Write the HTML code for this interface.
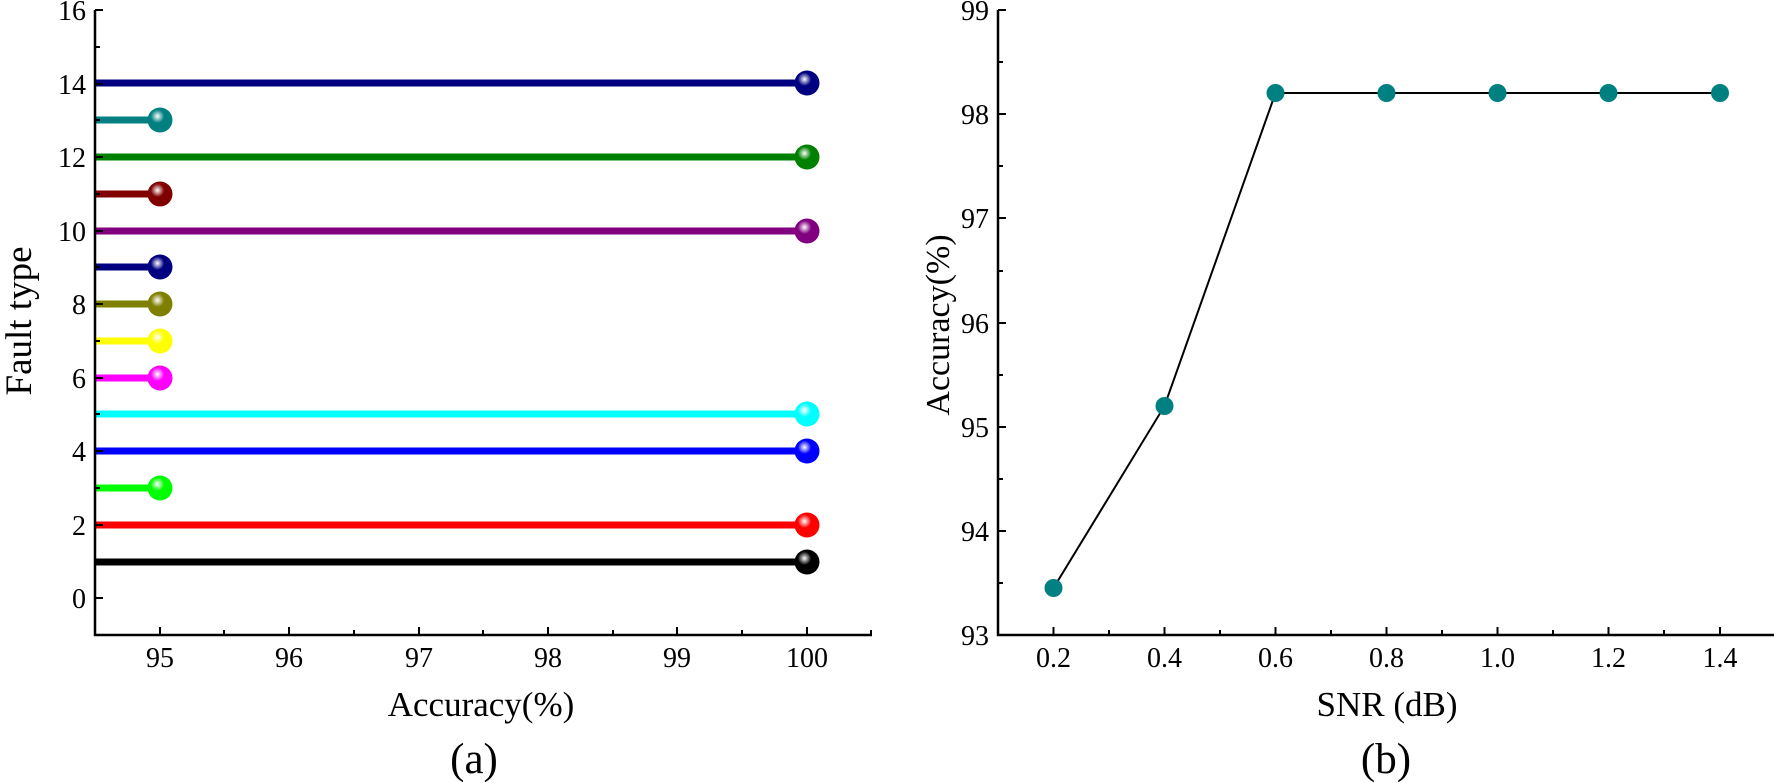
<!DOCTYPE html>
<html><head><meta charset="utf-8"><style>
html,body{margin:0;padding:0;background:#fff;}
svg{display:block;font-family:"Liberation Serif",serif;}
</style></head><body>
<svg width="1774" height="783" viewBox="0 0 1774 783" xmlns="http://www.w3.org/2000/svg">
<defs>
<radialGradient id="hl" cx="0.4" cy="0.35" r="0.6">
<stop offset="0" stop-color="#fff" stop-opacity="1"/>
<stop offset="0.18" stop-color="#fff" stop-opacity="0.6"/>
<stop offset="0.45" stop-color="#fff" stop-opacity="0"/>
</radialGradient>
</defs>
<g id="a">
<g stroke-width="7" fill="none">
<line x1="95" x2="807" y1="83" y2="83" stroke="#000080"/>
<line x1="95" x2="160" y1="120" y2="120" stroke="#008080"/>
<line x1="95" x2="807" y1="157" y2="157" stroke="#008000"/>
<line x1="95" x2="160" y1="194" y2="194" stroke="#800000"/>
<line x1="95" x2="807" y1="231" y2="231" stroke="#800080"/>
<line x1="95" x2="160" y1="267" y2="267" stroke="#000080"/>
<line x1="95" x2="160" y1="304" y2="304" stroke="#808000"/>
<line x1="95" x2="160" y1="341" y2="341" stroke="#ffff00"/>
<line x1="95" x2="160" y1="378" y2="378" stroke="#ff00ff"/>
<line x1="95" x2="807" y1="414" y2="414" stroke="#00ffff"/>
<line x1="95" x2="807" y1="451" y2="451" stroke="#0000ff"/>
<line x1="95" x2="160" y1="488" y2="488" stroke="#00ff00"/>
<line x1="95" x2="807" y1="525" y2="525" stroke="#ff0000"/>
<line x1="95" x2="807" y1="562" y2="562" stroke="#000000"/>
</g>
<g>
<circle cx="807" cy="83" r="12.5" fill="#000080"/><circle cx="807" cy="83" r="12.5" fill="url(#hl)"/>
<circle cx="160" cy="120" r="12.5" fill="#008080"/><circle cx="160" cy="120" r="12.5" fill="url(#hl)"/>
<circle cx="807" cy="157" r="12.5" fill="#008000"/><circle cx="807" cy="157" r="12.5" fill="url(#hl)"/>
<circle cx="160" cy="194" r="12.5" fill="#800000"/><circle cx="160" cy="194" r="12.5" fill="url(#hl)"/>
<circle cx="807" cy="231" r="12.5" fill="#800080"/><circle cx="807" cy="231" r="12.5" fill="url(#hl)"/>
<circle cx="160" cy="267" r="12.5" fill="#000080"/><circle cx="160" cy="267" r="12.5" fill="url(#hl)"/>
<circle cx="160" cy="304" r="12.5" fill="#808000"/><circle cx="160" cy="304" r="12.5" fill="url(#hl)"/>
<circle cx="160" cy="341" r="12.5" fill="#ffff00"/><circle cx="160" cy="341" r="12.5" fill="url(#hl)"/>
<circle cx="160" cy="378" r="12.5" fill="#ff00ff"/><circle cx="160" cy="378" r="12.5" fill="url(#hl)"/>
<circle cx="807" cy="414" r="12.5" fill="#00ffff"/><circle cx="807" cy="414" r="12.5" fill="url(#hl)"/>
<circle cx="807" cy="451" r="12.5" fill="#0000ff"/><circle cx="807" cy="451" r="12.5" fill="url(#hl)"/>
<circle cx="160" cy="488" r="12.5" fill="#00ff00"/><circle cx="160" cy="488" r="12.5" fill="url(#hl)"/>
<circle cx="807" cy="525" r="12.5" fill="#ff0000"/><circle cx="807" cy="525" r="12.5" fill="url(#hl)"/>
<circle cx="807" cy="562" r="12.5" fill="#000000"/><circle cx="807" cy="562" r="12.5" fill="url(#hl)"/>
</g>
<path d="M95,10 V635 H872" stroke="#000" stroke-width="2.5" fill="none"/>
<g stroke="#000" stroke-width="2">
<line x1="95" x2="103" y1="10" y2="10"/><line x1="95" x2="100" y1="47" y2="47"/>
<line x1="95" x2="103" y1="84" y2="84"/><line x1="95" x2="100" y1="120" y2="120"/>
<line x1="95" x2="103" y1="157" y2="157"/><line x1="95" x2="100" y1="194" y2="194"/>
<line x1="95" x2="103" y1="231" y2="231"/><line x1="95" x2="100" y1="267" y2="267"/>
<line x1="95" x2="103" y1="304" y2="304"/><line x1="95" x2="100" y1="341" y2="341"/>
<line x1="95" x2="103" y1="378" y2="378"/><line x1="95" x2="100" y1="414" y2="414"/>
<line x1="95" x2="103" y1="451" y2="451"/><line x1="95" x2="100" y1="488" y2="488"/>
<line x1="95" x2="103" y1="525" y2="525"/><line x1="95" x2="100" y1="562" y2="562"/>
<line x1="95" x2="103" y1="598" y2="598"/>
<line y1="635" y2="627" x1="160" x2="160"/><line y1="635" y2="630" x1="224" x2="224"/>
<line y1="635" y2="627" x1="289" x2="289"/><line y1="635" y2="630" x1="354" x2="354"/>
<line y1="635" y2="627" x1="419" x2="419"/><line y1="635" y2="630" x1="483" x2="483"/>
<line y1="635" y2="627" x1="548" x2="548"/><line y1="635" y2="630" x1="613" x2="613"/>
<line y1="635" y2="627" x1="677" x2="677"/><line y1="635" y2="630" x1="742" x2="742"/>
<line y1="635" y2="627" x1="807" x2="807"/><line y1="635" y2="630" x1="871" x2="871"/>
</g>
<g font-size="28" text-anchor="end">
<text x="86" y="20">16</text><text x="86" y="94">14</text><text x="86" y="167">12</text>
<text x="86" y="241">10</text><text x="86" y="314">8</text><text x="86" y="388">6</text>
<text x="86" y="461">4</text><text x="86" y="535">2</text><text x="86" y="608">0</text>
</g>
<g font-size="28" text-anchor="middle">
<text x="160" y="667">95</text><text x="289" y="667">96</text><text x="419" y="667">97</text>
<text x="548" y="667">98</text><text x="677" y="667">99</text><text x="807" y="667">100</text>
</g>
<text x="481" y="716" font-size="35" text-anchor="middle">Accuracy(%)</text>
<text transform="translate(31,321) rotate(-90)" font-size="37" text-anchor="middle">Fault type</text>
<text x="474" y="773" font-size="43" text-anchor="middle">(a)</text>
</g>
<g id="b">
<polyline points="1053.5,588 1164.5,406 1275.5,93 1386.5,93 1497.5,93 1608.5,93 1720,93" fill="none" stroke="#000" stroke-width="2"/>
<g fill="#008080">
<circle cx="1053.5" cy="588" r="9"/><circle cx="1164.5" cy="406" r="9"/><circle cx="1275.5" cy="93" r="9"/>
<circle cx="1386.5" cy="93" r="9"/><circle cx="1497.5" cy="93" r="9"/><circle cx="1608.5" cy="93" r="9"/>
<circle cx="1720" cy="93" r="9"/>
</g>
<path d="M998,10 V635 H1774" stroke="#000" stroke-width="2.5" fill="none"/>
<g stroke="#000" stroke-width="2">
<line x1="998" x2="1006" y1="10" y2="10"/><line x1="998" x2="1003" y1="62" y2="62"/>
<line x1="998" x2="1006" y1="114" y2="114"/><line x1="998" x2="1003" y1="166" y2="166"/>
<line x1="998" x2="1006" y1="218" y2="218"/><line x1="998" x2="1003" y1="271" y2="271"/>
<line x1="998" x2="1006" y1="323" y2="323"/><line x1="998" x2="1003" y1="375" y2="375"/>
<line x1="998" x2="1006" y1="427" y2="427"/><line x1="998" x2="1003" y1="479" y2="479"/>
<line x1="998" x2="1006" y1="531" y2="531"/><line x1="998" x2="1003" y1="583" y2="583"/>
<line y1="635" y2="627" x1="1053.5" x2="1053.5"/><line y1="635" y2="630" x1="1109" x2="1109"/>
<line y1="635" y2="627" x1="1164.5" x2="1164.5"/><line y1="635" y2="630" x1="1220" x2="1220"/>
<line y1="635" y2="627" x1="1275.5" x2="1275.5"/><line y1="635" y2="630" x1="1331" x2="1331"/>
<line y1="635" y2="627" x1="1386.5" x2="1386.5"/><line y1="635" y2="630" x1="1442" x2="1442"/>
<line y1="635" y2="627" x1="1497.5" x2="1497.5"/><line y1="635" y2="630" x1="1553" x2="1553"/>
<line y1="635" y2="627" x1="1608.5" x2="1608.5"/><line y1="635" y2="630" x1="1664" x2="1664"/>
<line y1="635" y2="627" x1="1720" x2="1720"/>
</g>
<g font-size="28" text-anchor="end">
<text x="989" y="20">99</text><text x="989" y="124">98</text><text x="989" y="228">97</text>
<text x="989" y="333">96</text><text x="989" y="437">95</text><text x="989" y="541">94</text>
<text x="989" y="645">93</text>
</g>
<g font-size="28" text-anchor="middle">
<text x="1053.5" y="667">0.2</text><text x="1164.5" y="667">0.4</text><text x="1275.5" y="667">0.6</text>
<text x="1386.5" y="667">0.8</text><text x="1497.5" y="667">1.0</text><text x="1608.5" y="667">1.2</text>
<text x="1720" y="667">1.4</text>
</g>
<text x="1387" y="716" font-size="35" text-anchor="middle">SNR (dB)</text>
<text transform="translate(949,325) rotate(-90)" font-size="34" text-anchor="middle">Accuracy(%)</text>
<text x="1386" y="773" font-size="43" text-anchor="middle">(b)</text>
</g>
</svg>
</body></html>
